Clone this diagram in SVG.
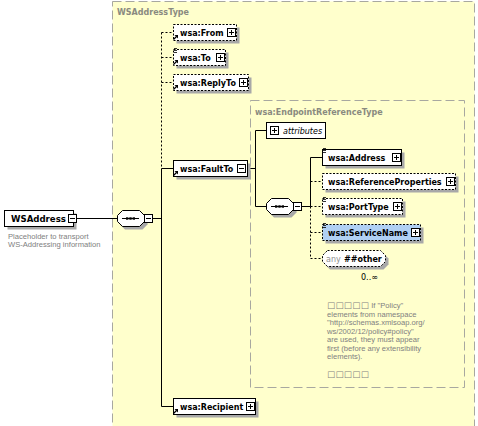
<svg xmlns="http://www.w3.org/2000/svg" xmlns:xlink="http://www.w3.org/1999/xlink" width="478" height="426" viewBox="0 0 478 426">
<style>
.bg{fill:#ffffcc;stroke:#a8a8a0;stroke-dasharray:9 4}
.ttl{font-family:"DejaVu Sans",sans-serif;font-weight:bold;font-size:8px;fill:#8a8a80}
.el{fill:#fff;stroke:#000}
.opt{stroke-dasharray:2 1.5}
.sh{fill:#a8a8a8}
.lbl{font-family:"DejaVu Sans",sans-serif;font-weight:bold;font-size:8px;fill:#000}
.ln{stroke:#000;fill:none}
.dl{stroke-dasharray:2 2}
.doc{font-family:"Liberation Sans",sans-serif;font-size:7.6px;fill:#808080}
.box{font-family:"DejaVu Sans",sans-serif;font-size:8.6px;letter-spacing:0.3px}
.any{font-family:"DejaVu Sans",sans-serif;font-size:8px;fill:#909090}
</style>
<defs>
<g id="plus"><rect x="0.5" y="0.5" width="8" height="8" fill="#fff" stroke="#000"/><path d="M2 4.5h5M4.5 2v5" stroke="#000"/></g>
<g id="minus"><rect x="0.5" y="0.5" width="8" height="8" fill="#fff" stroke="#000"/><path d="M2 4.5h5" stroke="#000"/></g>
<g id="ref"><path d="M0.5 -0.5L3.5 -3.5" stroke="#000" stroke-width="1.2"/><polygon points="5,-5 5,-1.5 1.5,-5" fill="#000"/></g>
<g id="eq"><path d="M0 0.5h3M0 2.5h3M0 4.5h3" stroke="#000" stroke-width="0.8"/></g>
<g id="seqdots"><path d="M5 0h17" stroke="#000"/><rect x="9" y="-1.2" width="2.4" height="2.4" fill="#000"/><rect x="12.3" y="-1.2" width="2.4" height="2.4" fill="#000"/><rect x="15.6" y="-1.2" width="2.4" height="2.4" fill="#000"/></g>
</defs>

<rect class="bg" x="112.5" y="1.5" width="362" height="440"/>
<text class="ttl" x="117" y="15">WSAddressType</text>

<rect class="bg" x="250.5" y="100.5" width="214" height="287"/>
<text class="ttl" x="255" y="115">wsa:EndpointReferenceType</text>

<g id="connectors">
<path class="ln" d="M76 218.5H117.5M152.5 218.5H161.5"/>
<path class="ln dl" d="M161.5 32.5V168.5M161.5 32.5H173.5M161.5 57.5H173.5M161.5 82.5H173.5"/>
<path class="ln" d="M161.5 168.5V406.5M161.5 168.5H173.5M161.5 406.5H173.5"/>
<path class="ln" d="M247.5 168.5H255.5M255.5 130.5V206.5M255.5 130.5H266.5M255.5 206.5H266.5M301.5 206.5H310.5"/>
<path class="ln" d="M310.5 157.5V206.5M310.5 157.5H322.5"/>
<path class="ln dl" d="M310.5 206.5V258.5M310.5 181.5H322.5M310.5 206.5H322.5M310.5 232.5H322.5M310.5 258.5H322.5"/>
</g>

<g id="WSAddress">
<rect class="sh" x="7.5" y="213.5" width="69" height="16"/>
<rect class="el" x="4.5" y="210.5" width="69" height="16"/>
<text class="lbl" x="11" y="221.5" style="font-size:8.6px">WSAddress</text>
<use xlink:href="#minus" x="68" y="214"/>
<text class="doc" x="8" y="238.5">Placeholder to transport</text>
<text class="doc" x="8" y="247">WS-Addressing information</text>
</g>

<g id="seq1">
<path class="sh" d="M125 213.5H142.5L147.5 218.5V224.5L142.5 229.5H125L120 224.5V218.5Z"/>
<path class="el" d="M122.5 210.5H139.5L144.5 215.5V221.5L139.5 226.5H122.5L117.5 221.5V215.5Z"/>
<use xlink:href="#seqdots" x="117" y="218.5"/>
<use xlink:href="#minus" x="144" y="214"/>
</g>

<g id="From">
<rect class="sh" x="176.5" y="27.5" width="63" height="16"/>
<rect class="el opt" x="173.5" y="24.5" width="63" height="16"/>
<text class="lbl" x="180" y="35.5">wsa:From</text>
<use xlink:href="#plus" x="227" y="28"/>
<use xlink:href="#ref" x="173" y="40"/>
</g>

<g id="To">
<rect class="sh" x="176.5" y="52.5" width="52" height="16"/>
<rect class="el opt" x="173.5" y="49.5" width="52" height="16"/>
<text class="lbl" x="180" y="60.5">wsa:To</text>
<use xlink:href="#plus" x="216" y="53"/>
<use xlink:href="#ref" x="173" y="65"/>
<use xlink:href="#eq" x="174" y="48"/>
</g>

<g id="ReplyTo">
<rect class="sh" x="176.5" y="77.5" width="75" height="16"/>
<rect class="el opt" x="173.5" y="74.5" width="75" height="16"/>
<text class="lbl" x="180" y="85.5">wsa:ReplyTo</text>
<use xlink:href="#plus" x="239" y="78"/>
<use xlink:href="#ref" x="173" y="90"/>
</g>

<g id="FaultTo">
<rect class="sh" x="176.5" y="163.5" width="74" height="16"/>
<rect class="el" x="173.5" y="160.5" width="74" height="16"/>
<text class="lbl" x="180" y="171.5">wsa:FaultTo</text>
<use xlink:href="#minus" x="237" y="164"/>
<use xlink:href="#ref" x="173" y="176"/>
</g>

<g id="Recipient">
<rect class="sh" x="176.5" y="401.5" width="82" height="16"/>
<rect class="el" x="173.5" y="398.5" width="82" height="16"/>
<text class="lbl" x="180" y="409.5">wsa:Recipient</text>
<use xlink:href="#plus" x="246" y="402"/>
<use xlink:href="#ref" x="173" y="414"/>
</g>

<g id="attributes">
<rect class="el" x="266.5" y="122.5" width="59" height="16"/>
<use xlink:href="#plus" x="270" y="126"/>
<text x="283" y="133.5" style="font-family:'DejaVu Sans',sans-serif;font-size:8px;font-style:italic">attributes</text>
</g>

<g id="seq2">
<path class="sh" d="M274 201.5H291.5L296.5 206.5V212.5L291.5 217.5H274L269 212.5V206.5Z"/>
<path class="el" d="M271.5 198.5H288.5L293.5 203.5V209.5L288.5 214.5H271.5L266.5 209.5V203.5Z"/>
<use xlink:href="#seqdots" x="266" y="206.5"/>
<use xlink:href="#minus" x="293" y="202"/>
</g>

<g id="Address">
<rect class="sh" x="325.5" y="152.5" width="79" height="16"/>
<rect class="el" x="322.5" y="149.5" width="79" height="16"/>
<text class="lbl" x="328" y="160.5">wsa:Address</text>
<use xlink:href="#plus" x="392" y="153"/>
<use xlink:href="#eq" x="323" y="148"/>
</g>

<g id="ReferenceProperties">
<rect class="sh" x="325.5" y="176.5" width="133" height="16"/>
<rect class="el opt" x="322.5" y="173.5" width="133" height="16"/>
<text class="lbl" x="328" y="184.5">wsa:ReferenceProperties</text>
<use xlink:href="#plus" x="446" y="177"/>
</g>

<g id="PortType">
<rect class="sh" x="325.5" y="201.5" width="80" height="16"/>
<rect class="el opt" x="322.5" y="198.5" width="80" height="16"/>
<text class="lbl" x="328" y="209.5">wsa:PortType</text>
<use xlink:href="#plus" x="393" y="202"/>
<use xlink:href="#eq" x="323" y="197"/>
</g>

<g id="ServiceName">
<rect class="sh" x="325.5" y="227.5" width="98" height="16"/>
<rect class="el opt" x="322.5" y="224.5" width="98" height="16" style="fill:#b0d0f4"/>
<text class="lbl" x="328" y="235.5">wsa:ServiceName</text>
<use xlink:href="#plus" x="411" y="228"/>
<use xlink:href="#eq" x="323" y="223"/>
</g>

<g id="any">
<path class="sh" d="M330 253.5H383.5L388.5 258.5V264.5L383.5 269.5H330L325 264.5V258.5Z"/>
<path class="el opt" d="M327.5 250.5H380.5L385.5 255.5V261.5L380.5 266.5H327.5L322.5 261.5V255.5Z"/>
<text class="any" x="326" y="261.5">any</text>
<text class="lbl" x="344" y="261.5">##other</text>
<text x="361" y="280" style="font-family:'DejaVu Sans',sans-serif;font-size:8px;fill:#000">0..∞</text>
</g>

<g id="documentation">
<text class="doc" x="327" y="308"><tspan class="box">□□□□□</tspan> If "Policy"</text>
<text class="doc" x="327" y="316.5">elements from namespace</text>
<text class="doc" x="327" y="325">"http://schemas.xmlsoap.org/</text>
<text class="doc" x="327" y="333.5">ws/2002/12/policy#policy"</text>
<text class="doc" x="327" y="342">are used, they must appear</text>
<text class="doc" x="327" y="350.5">first (before any extensibility</text>
<text class="doc" x="327" y="359">elements).</text>
<text class="doc" x="327" y="377"><tspan class="box">□□□□□</tspan></text>
</g>
</svg>
